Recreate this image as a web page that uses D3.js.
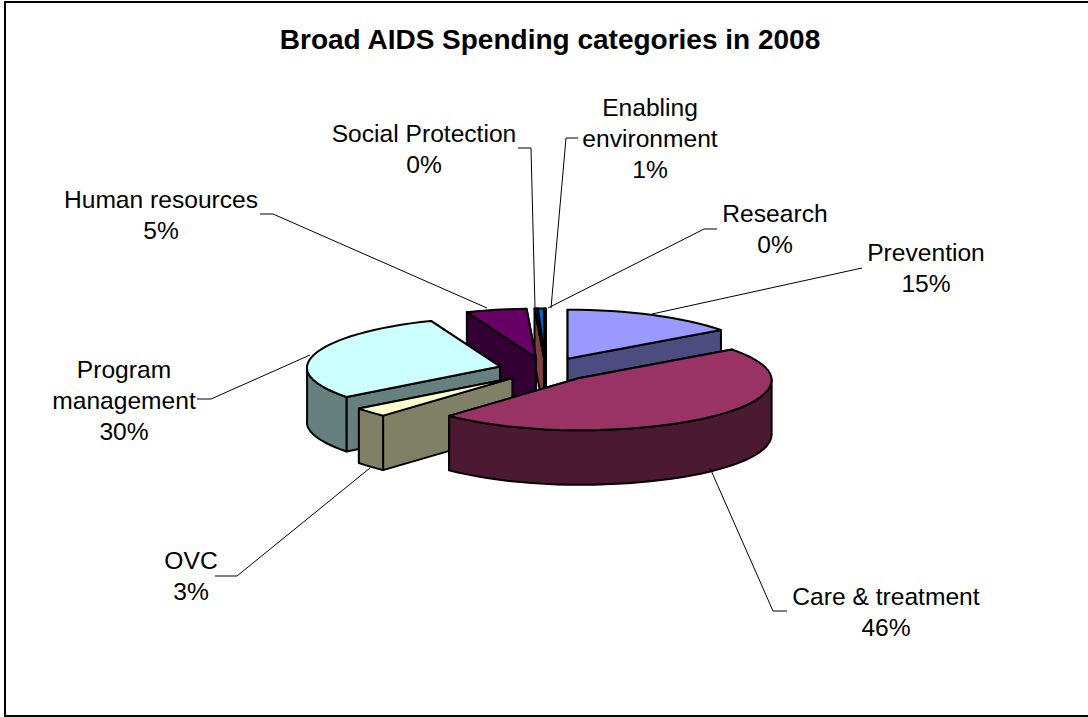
<!DOCTYPE html>
<html>
<head>
<meta charset="utf-8">
<script src="https://cdnjs.cloudflare.com/ajax/libs/d3/7.8.5/d3.min.js"></script>
<style>
  html, body { margin: 0; padding: 0; background: #fff; }
  svg { display: block; }
  text { font-family: "Liberation Sans", Arial, sans-serif; fill: #000; }
</style>
</head>
<body>
<svg id="chart" width="1088" height="717"></svg>
<script>
// Spending categories in clockwise order, starting at twelve o'clock.
const categories = ["Prevention", "Care & treatment", "OVC", "Program management",
                    "Human resources", "Social Protection", "Enabling environment", "Research"];
const shares = [15, 46, 3, 30, 5.2, 0.2, 0.5, 0.1];
const percentLabels = ["15%", "46%", "3%", "30%", "5%", "0%", "1%", "0%"];
const topColors = ["#9999FF", "#993366", "#FFFFCC", "#CCFFFF", "#660066", "#FF8080", "#0066CC", "#CCCCFF"];
const sideColors = ["#4C4C80", "#4C1933", "#808066", "#668080", "#330033", "#804040", "#003366", "#666680"];
const labelLines = [["Prevention"], ["Care & treatment"], ["OVC"], ["Program", "management"],
                    ["Human resources"], ["Social Protection"], ["Enabling", "environment"], ["Research"]];

// Label anchors and leader polylines, in order of the categories above.
const labelCenters = [[926, 252], [886, 596], [191, 560], [124, 369], [161, 199], [424, 133], [650, 107], [775, 213]];
const leaders = [
  [[862, 268], [652, 314]],
  [[787, 611], [773, 611], [710, 468]],
  [[215, 576], [237, 576], [370, 468]],
  [[197, 399], [211, 399], [310, 355]],
  [[260, 214], [273, 214], [487, 308]],
  [[518, 148], [531, 148], [535, 308]],
  [[578, 138], [566, 138], [551, 308]],
  [[717, 229], [704, 229], [548, 308]]
];

// Draw order: the far slices first, the front slice last.
const paintOrder = [0, 7, 6, 5, 4, 3, 2, 1];

const svg = d3.select("#chart");
const width = 1088, height = 717;

const frame = svg.append("g").attr("fill", "none").attr("stroke", "#000").attr("stroke-width", 2);
frame.append("path").attr("d", d3.line()([[5, height], [5, 2], [width, 2]]));
frame.append("path").attr("d", d3.line()([[5, 716], [width, 716]]));

svg.append("text")
  .attr("x", 550).attr("y", 49)
  .attr("text-anchor", "middle")
  .attr("font-weight", "bold")
  .attr("font-size", 28)
  .text("Broad AIDS Spending categories in 2008");

// Oblique view of the disc: the angle runs clockwise from the top of the pie.
const centre = { x: 546, y: 369.5 };
const radius = 193, backDepth = 49, frontDepth = 52, explode = 47.5, thickness = 54.5, spread = 0.03;

const rX = d3.scaleLinear().domain([-1, 1]).range([-radius, radius]);

// Vertical reach of the ellipse; the front-left sweep sits a little flatter.
function reach(s, c) {
  if (c >= 0) return backDepth;
  return s >= 0 ? frontDepth : frontDepth - 5 * (1 - c * c * c * c);
}

// Horizontal stretch from the view; the front-left sweep opens out a little more.
function stretch(s, c) {
  const extra = s < 0 && c < 0 ? 0.08 * c * c * c * c : 0;
  return 1 - spread * c + extra;
}

function project(angle, r, drop) {
  const s = Math.sin(angle), c = Math.cos(angle);
  return [rX(s) * stretch(s, c) * r, -c * reach(s, c) * r + drop];
}

const arcs = d3.pie().value(d => d).sort(null)(shares);

const slices = svg.append("g")
  .attr("stroke", "#000").attr("stroke-width", 2).attr("stroke-linejoin", "round");

const outline = d3.line();

paintOrder.forEach(i => {
  const a = arcs[i];
  const mid = (a.startAngle + a.endAngle) / 2;
  const ox = centre.x + Math.sin(mid) * explode;
  const oy = centre.y - Math.cos(mid) * explode * (backDepth / radius);
  const at = (angle, r, drop) => {
    const p = project(angle, r, drop);
    return [ox + p[0], oy + p[1]];
  };

  const steps = Math.max(1, Math.ceil((a.endAngle - a.startAngle) / 0.06));
  const rim = d3.range(steps + 1).map(k => a.startAngle + (a.endAngle - a.startAngle) * k / steps);

  // Radial walls, the nearer one painted later.
  const wall = angle => [at(angle, 0, 0), at(angle, 1, 0), at(angle, 1, thickness), at(angle, 0, thickness)];
  [a.startAngle, a.endAngle]
    .sort((p, q) => at(p, 1, 0)[1] - at(q, 1, 0)[1])
    .forEach(angle => {
      slices.append("path").attr("d", outline(wall(angle)) + "Z").attr("fill", sideColors[i]);
    });

  // Outer rim, only where it faces the viewer.
  const front = rim.filter(t => Math.cos(t) <= 0.02);
  if (front.length > 1) {
    const pts = front.map(t => at(t, 1, 0)).concat(front.slice().reverse().map(t => at(t, 1, thickness)));
    slices.append("path").attr("d", outline(pts) + "Z").attr("fill", sideColors[i]);
  }

  // Top face.
  const top = [at(0, 0, 0)].concat(rim.map(t => at(t, 1, 0)));
  slices.append("path").attr("d", outline(top) + "Z").attr("fill", topColors[i]);
});

// Leader lines.
svg.append("g").attr("fill", "none").attr("stroke", "#000").attr("stroke-width", 1)
  .selectAll("path").data(leaders).join("path")
  .attr("d", d => d3.line()(d));

// Category labels with their percentages below.
const lineHeight = 31;
categories.forEach((c, i) => {
  const lines = labelLines[i].concat(percentLabels[i]);
  const t = svg.append("text")
    .attr("text-anchor", "middle")
    .attr("font-size", 24.6);
  lines.forEach((line, k) => {
    t.append("tspan")
      .attr("x", labelCenters[i][0])
      .attr("y", labelCenters[i][1] + k * lineHeight + 8.5)
      .text(line);
  });
});
</script>
</body>
</html>
